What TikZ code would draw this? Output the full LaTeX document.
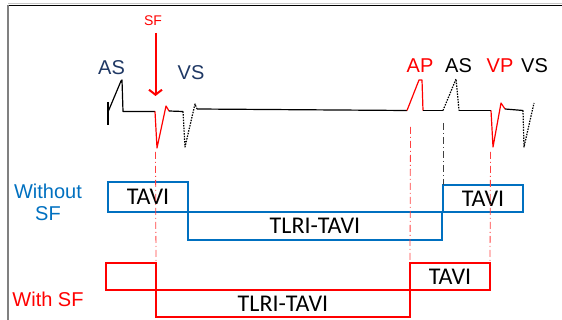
\documentclass[tikz,border=0pt]{standalone}
\usepackage{fontspec}
\setmainfont{Liberation Sans}
\newfontfamily\boxfont{Carlito}
\usetikzlibrary{arrows.meta,positioning,calc}
\definecolor{pblue}{HTML}{0070C0}
\definecolor{pred}{HTML}{FF0000}
\definecolor{pnavy}{HTML}{1F3864}
\tikzset{
  ecg/.style={line width=1.2pt, line join=round},
  sensed/.style={ecg, dash pattern=on 1.5pt off 1.2pt},
  dropline/.style={line width=0.8pt, dash pattern=on 7pt off 3pt on 1pt off 3pt},
  tbox/.style={draw, line width=1.2pt, anchor=north west, inner sep=0pt, outer sep=0pt,
    text=black, font=\boxfont\fontsize{24}{26}\selectfont},
  evt/.style={font=\fontsize{20}{22}\selectfont},
}
\begin{document}
\begin{tikzpicture}[x=1pt, y=-1pt, >={Straight Barb[length=5pt, width=13pt]}]
\useasboundingbox (0,0) rectangle (562,320);
\draw[gray!45, line width=1pt] (8,3.8) -- (562,3.8);
\draw[line width=1.3pt] (8,5.5) -- (562,5.5);
\draw[gray, line width=1.5pt] (8,5) -- (8,320);
% trace
\draw[ecg] (108,102) -- (108,125);
\draw[ecg] (108,112) -- (121,81) -- (122,80) -- (123,111.5) -- (155,111.5);
\draw[ecg, pred] (155,111.5) -- (157,148) -- (166,106) -- (169,111);
\draw[ecg] (169,111) -- (183,111.5);
\draw[sensed] (183,111.5) -- (185,147) -- (195,104) -- (197,109);
\draw[ecg] (197,109) -- (407,110.5);
\draw[ecg, pred] (407,110.5) -- (419,80) -- (422,80) -- (423,110.5);
\draw[ecg] (423,110.5) -- (443,110.5);
\draw[sensed] (443,110.5) -- (456,79) -- (459,110.5);
\draw[ecg] (459,110.5) -- (491,110.5);
\draw[ecg, pred] (491,110.5) -- (493,147) -- (501,103) -- (505,109);
\draw[ecg] (505,109) -- (523,110.5);
\draw[sensed] (523,110.5) -- (524,147) -- (534,103);
\coordinate (sfdrop) at (155.5,152);
\coordinate (apdrop) at (410.5,127);
\coordinate (asdrop) at (443,123);
\coordinate (vpdrop) at (490.5,152);
% labels
\node[pred, font=\fontsize{14}{16}\selectfont] (sf) at (153,21) {SF};
\coordinate (sftop) at (155.5,33);
\coordinate (sftip) at (155.5,96);
\draw[->, pred, line width=2pt] (sftop) -- (sftip);
\node[evt, pnavy] (as1) at (111.5,67.5) {AS};
\node[evt, pnavy] (vs1) at (191,72.5) {VS};
\node[evt, pred] (ap) at (420,66) {AP};
\node[evt] (as2) at (458.5,66) {AS};
\node[evt, pred] (vp) at (500,66) {VP};
\node[evt] (vs2) at (534.5,66) {VS};
\node[evt, pblue, align=center, inner sep=0pt] (without) at (48,202.5) {Without\\SF};
\node[evt, pred] (with) at (48,299) {With SF};
% timing boxes
\node[tbox, draw=pblue, minimum width=80pt, minimum height=30pt] (woTAVI) at (108,182) {TAVI};
\node[tbox, draw=pblue, minimum width=254pt, minimum height=28pt] (woTLRI) at (woTAVI.south east) {TLRI-TAVI};
\node[tbox, draw=pblue, minimum width=80pt, minimum height=27pt] (woTAVIb) at (443,185) {TAVI};
\node[tbox, draw=pred, minimum width=50pt, minimum height=27pt] (wiTAVI) at (106,263) {};
\node[tbox, draw=pred, minimum width=254pt, minimum height=27pt] (wiTLRI) at (wiTAVI.south east) {TLRI-TAVI};
\node[tbox, draw=pred, minimum width=80pt, minimum height=27pt, anchor=south west] (wiTAVIb) at (wiTLRI.north east) {TAVI};
% markers
\draw[dropline, pred!75] (sfdrop) -- (wiTAVI.north east);
\draw[dropline, pred!75] (apdrop) -- (wiTAVIb.north west);
\draw[dropline, pred!75] (vpdrop) -- (wiTAVIb.north east);
\draw[dropline, black!75] (asdrop) -- (woTAVIb.north west);
\end{tikzpicture}
\end{document}
